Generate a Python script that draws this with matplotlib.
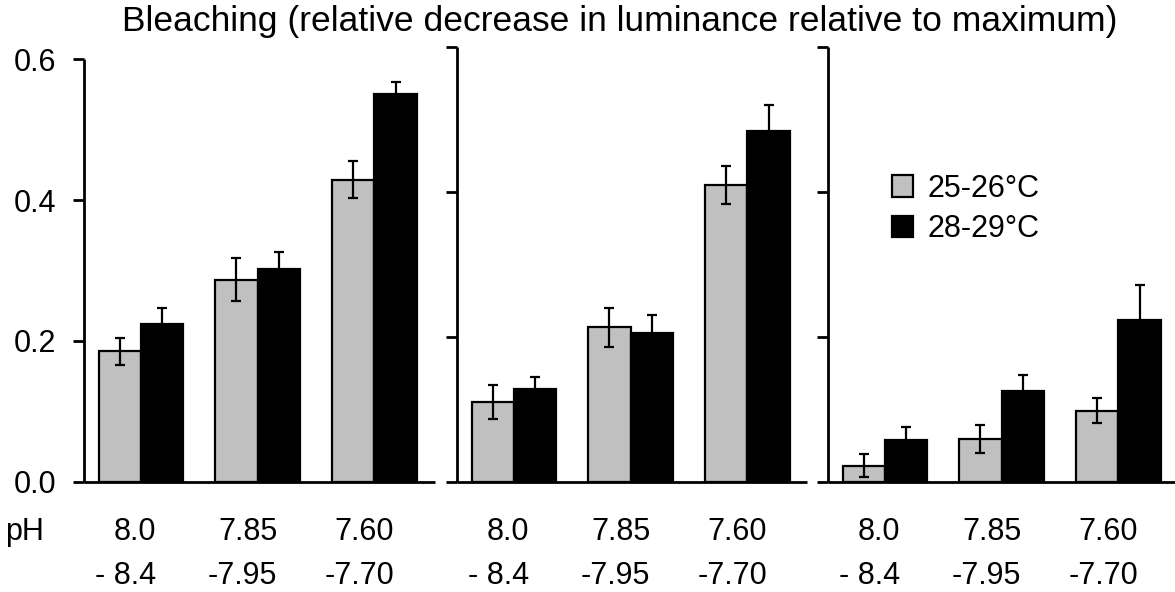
import matplotlib
matplotlib.use("Agg")
import matplotlib.pyplot as plt
import matplotlib.transforms as mtransforms
from matplotlib.patches import Patch
import numpy as np

plt.rcParams['font.family'] = ['Liberation Sans', 'DejaVu Sans']

# ---- data ----
title = "Bleaching (relative decrease in luminance relative to maximum)"
series_names = ["25-26°C", "28-29°C"]
ph_labels = ["8.0\n- 8.4", "7.85\n-7.95", "7.60\n-7.70"]
ytick_vals = [0.0, 0.2, 0.4, 0.6]
ytick_labels = ["0.0", "0.2", "0.4", "0.6"]

p1_low = [0.185, 0.287, 0.429]
p1_low_err = [0.019, 0.030, 0.026]
p1_high = [0.224, 0.302, 0.550]
p1_high_err = [0.023, 0.024, 0.018]

p2_low = [0.110, 0.213, 0.409]
p2_low_err = [0.023, 0.027, 0.026]
p2_high = [0.128, 0.205, 0.483]
p2_high_err = [0.017, 0.025, 0.037]

p3_low = [0.022, 0.059, 0.098]
p3_low_err = [0.016, 0.020, 0.017]
p3_high = [0.058, 0.125, 0.224]
p3_high_err = [0.018, 0.022, 0.047]

panels = [
    (p1_low, p1_low_err, p1_high, p1_high_err),
    (p2_low, p2_low_err, p2_high, p2_high_err),
    (p3_low, p3_low_err, p3_high, p3_high_err),
]

GRAY = "#c0c0c0"
BLACK = "#000000"

W, H = 1175, 592
fig = plt.figure(figsize=(W / 100, H / 100), dpi=100)

# axes boxes in pixels: left, right, top(0.6), bottom(0)
boxes = [(84, 435, 59.3, 481.5), (457, 807, 46.5, 481.7), (828, 1175, 47.3, 481.7)]
bw = 0.364
x = np.arange(3)
FS = 22

axes = []
for i, (box, data) in enumerate(zip(boxes, panels)):
    l, r, t, b = box
    ax = fig.add_axes([l / W, 1 - b / H, (r - l) / W, (b - t) / H])
    axes.append(ax)
    low, low_err, high, high_err = data
    ax.bar(x - bw / 2, low, bw, color=GRAY, edgecolor='black', linewidth=1.6, zorder=2)
    ax.bar(x + bw / 2, high, bw, color=BLACK, edgecolor='black', linewidth=1.6, zorder=2)
    ax.errorbar(x - bw / 2, low, yerr=low_err, fmt='none', ecolor='black',
                elinewidth=1.6, capsize=3.8, capthick=1.6, zorder=3)
    ax.errorbar(x + bw / 2, high, yerr=high_err, fmt='none', ecolor='black',
                elinewidth=1.6, capsize=3.8, capthick=1.6, zorder=3)
    ax.set_ylim(0, 0.6)
    ax.set_xlim(-57 / 116.7, -57 / 116.7 + (r - l) / 116.7)
    for s in ['top', 'right']:
        ax.spines[s].set_visible(False)
    for s in ['left', 'bottom']:
        ax.spines[s].set_linewidth(2.0)
        ax.spines[s].set_capstyle('butt')
    ax.set_yticks(ytick_vals)
    if i == 0:
        ax.set_yticklabels(ytick_labels, fontsize=FS)
    else:
        ax.set_yticklabels([])
    ax.tick_params(axis='y', direction='out', length=8, width=2.0, pad=12)
    ax.set_xticks(x)
    ax.set_xticklabels(ph_labels, fontsize=FS, multialignment='right', linespacing=1.6)
    ax.tick_params(axis='x', length=0, pad=25.5)
    offset = mtransforms.ScaledTranslation(-15 / 100, 0, fig.dpi_scale_trans)
    for lab in ax.get_xticklabels():
        lab.set_transform(lab.get_transform() + offset)

fig.text(5 / W, 1 - 532 / H, "pH", fontsize=FS, ha='left', va='center')
fig.text(620 / W, 1 - 31.5 / H, title, fontsize=25.5, ha='center', va='baseline')

handles = [Patch(facecolor=GRAY, edgecolor='black', linewidth=1.6),
           Patch(facecolor=BLACK, edgecolor='black', linewidth=1.6)]
fig.legend(handles, series_names, loc='upper left',
           bbox_to_anchor=(892 / W, 1 - 174 / H), frameon=False, fontsize=FS,
           handlelength=0.68, handleheight=0.72, handletextpad=0.48,
           labelspacing=0.33, borderpad=0, borderaxespad=0)

fig.savefig("out.png", dpi=100)
